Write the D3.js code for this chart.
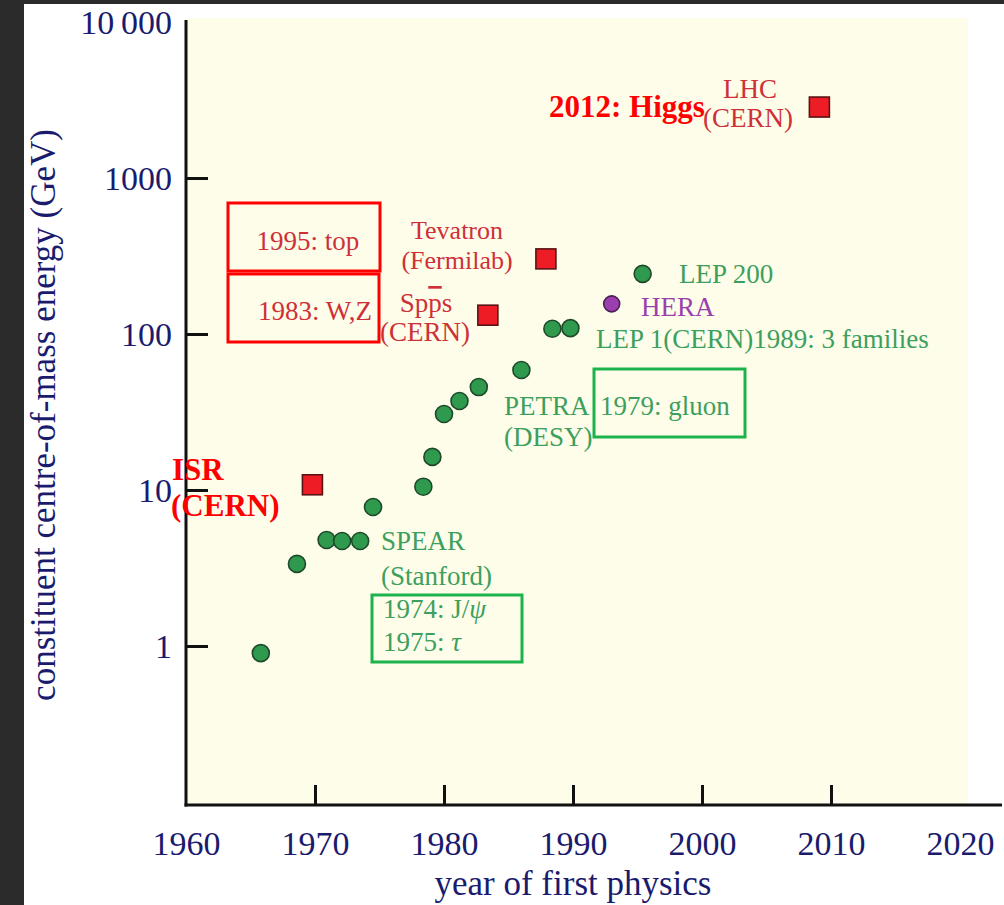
<!doctype html>
<html lang="en">
<head>
<meta charset="utf-8">
<title>Collider energies</title>
<script src="https://d3js.org/d3.v7.min.js"></script>
<style>
  body { margin: 0; background: #2b2b2b; }
  svg { display: block; }
  text { font-family: "Liberation Serif", "Times New Roman", serif; }
</style>
</head>
<body>
<div class="chart"></div>
<script>
  // year of first physics and constituent centre-of-mass energy (GeV)
  const leptonYears = [1965.8, 1968.6, 1970.9, 1972.1, 1973.5, 1974.5, 1978.4, 1979.1,
    1980.0, 1981.2, 1982.7, 1986.0, 1988.4, 1989.8, 1995.4];
  const leptonEnergies = [0.90, 3.36, 4.78, 4.71, 4.71, 7.78, 10.5, 16.3,
    30.7, 37.2, 45.7, 58.8, 108, 109, 243];
  const epYears = [1993.0];
  const epEnergies = [156];
  const hadronNames = ['ISR', 'SppS', 'Tevatron', 'LHC'];
  const hadronYears = [1969.8, 1983.4, 1987.9, 2009.1];
  const hadronEnergies = [10.8, 132, 303, 2850];

  const xTicks = [1960, 1970, 1980, 1990, 2000, 2010, 2020];
  const yTicks = [1, 10, 100, 1000, 10000];

  const width = 1004, height = 905;
  const navy = '#1b1b6e', red = '#cf3038', green = '#3d9f5d', purple = '#9a3fae';

  const svg = d3.select('.chart').append('svg')
    .attr('width', width)
    .attr('height', height);

  // white page inside the dark frame
  svg.append('rect')
    .attr('x', 24).attr('y', 4)
    .attr('width', width - 24).attr('height', height - 4)
    .attr('fill', '#ffffff');

  const x = d3.scaleLinear().domain([1960, 2020]).range([186, 960]);
  const y = d3.scaleLog().domain([1, 10000]).range([646, 22]);
  const plotBottom = 805;

  // cream plot area
  svg.append('rect')
    .attr('x', x(1960)).attr('y', 18)
    .attr('width', 968 - x(1960)).attr('height', plotBottom - 18)
    .attr('fill', '#fdfdea');

  // axes
  const yAxis = d3.axisLeft(y)
    .tickValues(yTicks)
    .tickSize(-22)
    .tickPadding(14)
    .tickFormat(d => d === 10000 ? '10\u2009000' : d3.format('d')(d));

  const gy = svg.append('g')
    .attr('transform', `translate(${x(1960)},0)`)
    .call(yAxis);
  gy.select('.domain').remove();
  gy.selectAll('.tick line')
    .attr('stroke', '#111').attr('stroke-width', 3)
    .attr('opacity', d => d === 10000 ? 0 : 1);
  gy.selectAll('.tick text')
    .attr('fill', navy)
    .style('font-size', '34px')
    .attr('dy', '0.34em');

  const xAxis = d3.axisBottom(x)
    .tickValues(xTicks)
    .tickSize(-20)
    .tickPadding(26)
    .tickFormat(d3.format('d'));

  const gx = svg.append('g')
    .attr('transform', `translate(0,${plotBottom})`)
    .call(xAxis);
  gx.select('.domain').remove();
  gx.selectAll('.tick line')
    .attr('stroke', '#111').attr('stroke-width', 3)
    .attr('opacity', d => (d === 1960 || d === 2020) ? 0 : 1);
  gx.selectAll('.tick text')
    .attr('fill', navy)
    .style('font-size', '34px')
    .attr('dy', '0.71em');

  // axis lines
  svg.append('line')
    .attr('x1', x(1960)).attr('x2', x(1960))
    .attr('y1', 20).attr('y2', plotBottom + 1.5)
    .attr('stroke', '#111').attr('stroke-width', 3);
  svg.append('line')
    .attr('x1', x(1960) - 1.5).attr('x2', 1002)
    .attr('y1', plotBottom).attr('y2', plotBottom)
    .attr('stroke', '#111').attr('stroke-width', 3);

  // axis titles
  svg.append('text')
    .attr('transform', 'translate(55,415) rotate(-90)')
    .attr('text-anchor', 'middle')
    .attr('fill', navy)
    .style('font-size', '35px')
    .text('constituent centre-of-mass energy (GeV)');

  svg.append('text')
    .attr('x', 573).attr('y', 895)
    .attr('text-anchor', 'middle')
    .attr('fill', navy)
    .style('font-size', '35px')
    .text('year of first physics');

  // annotation boxes
  const boxes = [
    {x: 228, y: 203, w: 152, h: 68, c: '#ff0000'},
    {x: 228, y: 274, w: 151, h: 68, c: '#ff0000'},
    {x: 372, y: 595, w: 150, h: 67, c: '#1cb34c'},
    {x: 594, y: 369, w: 151, h: 68, c: '#1cb34c'}
  ];
  svg.selectAll('rect.box')
    .data(boxes)
    .enter()
    .append('rect')
    .attr('class', 'box')
    .attr('x', d => d.x).attr('y', d => d.y)
    .attr('width', d => d.w).attr('height', d => d.h)
    .attr('fill', 'none')
    .attr('stroke', d => d.c)
    .attr('stroke-width', 3);

  // data points
  const leptons = leptonYears.map((yr, i) => ({yr, e: leptonEnergies[i]}));
  const ep = epYears.map((yr, i) => ({yr, e: epEnergies[i]}));
  const hadrons = hadronYears.map((yr, i) => ({name: hadronNames[i], yr, e: hadronEnergies[i]}));

  svg.selectAll('circle.lep')
    .data(leptons)
    .enter()
    .append('circle')
    .attr('class', 'lep')
    .attr('cx', d => x(d.yr))
    .attr('cy', d => y(d.e))
    .attr('r', 8.5)
    .attr('fill', '#2f9a4e')
    .attr('stroke', '#1e4a2b')
    .attr('stroke-width', 1.6);

  svg.selectAll('circle.ep')
    .data(ep)
    .enter()
    .append('circle')
    .attr('class', 'ep')
    .attr('cx', d => x(d.yr))
    .attr('cy', d => y(d.e))
    .attr('r', 8)
    .attr('fill', '#9b3fae')
    .attr('stroke', '#4a1f52')
    .attr('stroke-width', 1.6);

  const sq = 20;
  svg.selectAll('rect.had')
    .data(hadrons)
    .enter()
    .append('rect')
    .attr('class', 'had')
    .attr('x', d => x(d.yr) - sq / 2)
    .attr('y', d => y(d.e) - sq / 2)
    .attr('width', sq).attr('height', sq)
    .attr('fill', '#ee1d25')
    .attr('stroke', '#5a1414')
    .attr('stroke-width', 1.6);

  // labels
  const labels = [
    {t: 'Tevatron', x: 457, y: 239, c: red, s: 26},
    {t: '(Fermilab)', x: 457, y: 269, c: red, s: 26},
    {t: '(CERN)', x: 425, y: 341, c: red},
    {t: 'LHC', x: 750, y: 98, c: red},
    {t: '(CERN)', x: 748, y: 127, c: red},
    {t: '1995: top', x: 308, y: 250, c: red},
    {t: '1983: W,Z', x: 315, y: 320, c: red},
    {t: 'SPEAR', x: 381, y: 550, c: green, a: 'start'},
    {t: '(Stanford)', x: 381, y: 585, c: green, a: 'start'},
    {t: 'PETRA', x: 504, y: 415, c: green, a: 'start'},
    {t: '(DESY)', x: 504, y: 446, c: green, a: 'start'},
    {t: '1979: gluon', x: 600, y: 415, c: green, a: 'start'},
    {t: 'LEP 200', x: 679, y: 283, c: green, a: 'start'},
    {t: 'HERA', x: 641, y: 316, c: purple, a: 'start'},
    {t: 'LEP 1(CERN)1989: 3 families', x: 596, y: 348, c: green, a: 'start'},
    {t: '2012: Higgs', x: 549, y: 117, c: '#ff0000', a: 'start', b: true},
    {t: 'ISR', x: 172, y: 480, c: '#ff0000', a: 'start', b: true},
    {t: '(CERN)', x: 171, y: 516, c: '#ff0000', a: 'start', b: true}
  ];
  svg.selectAll('text.lbl')
    .data(labels)
    .enter()
    .append('text')
    .attr('class', 'lbl')
    .attr('x', d => d.x).attr('y', d => d.y)
    .attr('text-anchor', d => d.a || 'middle')
    .attr('fill', d => d.c)
    .style('font-size', d => (d.s || (d.b ? 31 : 27)) + 'px')
    .style('font-weight', d => d.b ? 'bold' : 'normal')
    .text(d => d.t);

  // S p pbar s
  const spps = svg.append('text')
    .attr('x', 426).attr('y', 312)
    .attr('text-anchor', 'middle')
    .attr('fill', red)
    .style('font-size', '27px');
  spps.append('tspan').text('Sp');
  spps.append('tspan').style('text-decoration', 'overline').text('p');
  spps.append('tspan').text('s');

  const jpsi = svg.append('text')
    .attr('x', 383).attr('y', 618)
    .attr('fill', green)
    .style('font-size', '27px');
  jpsi.append('tspan').text('1974: J/');
  jpsi.append('tspan').style('font-style', 'italic').text('\u03c8');

  const tau = svg.append('text')
    .attr('x', 383).attr('y', 651)
    .attr('fill', green)
    .style('font-size', '27px');
  tau.append('tspan').text('1975: ');
  tau.append('tspan').style('font-style', 'italic').text('\u03c4');
</script>
</body>
</html>
